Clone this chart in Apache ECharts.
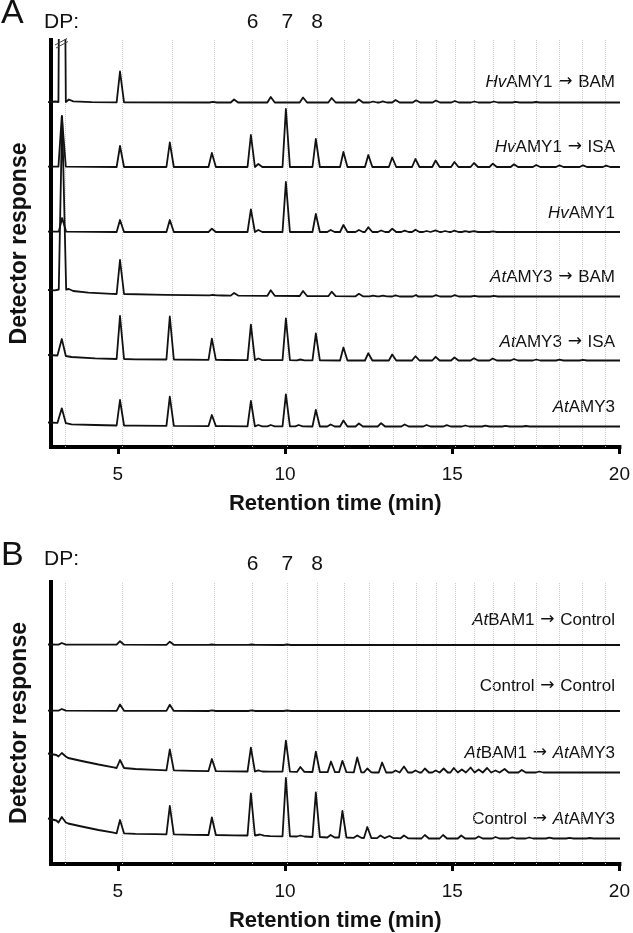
<!DOCTYPE html>
<html>
<head>
<meta charset="utf-8">
<script src="https://cdn.jsdelivr.net/npm/echarts@6/dist/echarts.min.js"></script>
<style>
html,body{margin:0;padding:0;background:#fff;}
#c{width:633px;height:933px;}
</style>
</head>
<body>
<div id="c"></div>
<script>
// ===================== DATA =====================
const xTicks = [5, 10, 15, 20];
const xTitle = 'Retention time (min)';
const yTitle = 'Detector response';
const dpGridTimes = [3.44, 5.14, 6.62, 7.87, 9.03, 10.07, 10.96, 11.78, 12.52, 13.23, 13.92, 14.52,
                     15.08, 15.66, 16.22, 16.85, 17.51, 18.2, 18.9, 19.59];
const dpLabelTimes = [9.03, 10.07, 10.96];
const dpLabels = ['6', '7', '8'];
const panelLetters = ['A', 'B'];
const dpPrefix = 'DP:';

const namesA = ['{i|Hv}AMY1 \u2192 BAM', '{i|Hv}AMY1 \u2192 ISA', '{i|Hv}AMY1',
                '{i|At}AMY3 \u2192 BAM', '{i|At}AMY3 \u2192 ISA', '{i|At}AMY3'];
const namesB = ['{i|At}BAM1 \u2192 Control', 'Control \u2192 Control',
                '{i|At}BAM1 \u2192 {i|At}AMY3', 'Control \u2192 {i|At}AMY3'];

// Each trace: baseline knots [time, level] and peaks [time, foot level, apex level]
// Panel A
const hvBamBase = [[3.0, 0.3], [3.22, 1], [3.62, 3], [3.75, 1.2], [4.3, 0.3], [20, 0]];
const hvBamPeaks = [[3.41, 0.5, 600], [5.14, 0.2, 31], [7.9, 0, 0.7], [8.53, 0, 3], [9.62, 0, 5.5],
  [10.58, 0, 5], [11.43, 0, 4.5], [12.24, 0, 3], [12.66, 0, 1], [12.95, 0, 1.2], [13.33, 0, 2.5],
  [13.94, 0, 2.2], [14.53, 0, 2], [15.09, 0, 1.5], [15.67, 0, 1], [16.25, 0, 1], [16.9, 0, 0.7], [17.5, 0, 0.5]];

const hvIsaBase = [[3.0, 0.3], [20, 0]];
const hvIsaPeaks = [[3.41, 0.3, 51], [5.14, 0, 21], [6.62, 0, 24.5], [7.87, 0, 14], [9.03, 0, 32], [9.25, 0, 3],
  [10.07, 0, 58], [10.96, 0, 28], [11.78, 0, 15], [12.52, 0, 12], [13.23, 0, 9.5], [13.92, 0, 8],
  [14.52, 0, 6.5], [15.08, 0, 5], [15.66, 0, 4], [16.22, 0, 3.3], [16.85, 0, 2.7], [17.51, 0, 2],
  [18.2, 0, 1.7], [18.9, 0, 1.7], [19.59, 0, 1.3]];

const hvAmyBase = [[3.0, 0.3], [20, 0]];
const hvAmyPeaks = [[3.42, 0.3, 14], [5.14, 0, 12], [6.62, 0, 12], [7.87, 0, 3.3], [9.03, 0, 22.7], [9.25, 0, 2],
  [10.07, 0, 50], [10.96, 0, 18], [11.4, 0, 2], [11.78, 0, 7], [12.24, 0, 2], [12.52, 0, 4.7], [12.9, 0, 1.5],
  [13.23, 0, 3.3], [13.6, 0, 1.3], [13.92, 0, 2.3], [14.25, 0, 1], [14.52, 0, 1.7], [14.8, 0, 1],
  [15.08, 0, 1.3], [15.4, 0, 0.8], [15.66, 0, 0.8], [16.22, 0, 0.6]];

const atBamBase = [[3.0, 6.5], [3.2, 6.2], [3.62, 7.5], [3.75, 5.5], [4.2, 3.8], [4.9, 2.6], [6.5, 1.6],
  [8.2, 1], [11, 0.4], [14, 0], [20, 0]];
const atBamPeaks = [[3.42, 7, 180], [5.14, 2.5, 36.5], [7.9, 1.2, 1.7], [8.53, 0.9, 3.5], [9.62, 0.7, 6.2],
  [10.58, 0.5, 5.5], [11.43, 0.3, 4.8], [12.24, 0.2, 2.7], [12.66, 0.1, 0.9], [12.95, 0.1, 0.9],
  [13.33, 0, 1.2], [13.94, 0, 1.5], [14.53, 0, 1.3], [15.09, 0, 1.3], [15.67, 0, 0.7], [16.25, 0, 0.6]];

const atIsaBase = [[3.0, 5.5], [3.28, 5], [3.7, 3.5], [4.4, 2.2], [5.6, 1.2], [8.3, 0.5], [12, 0], [20, 0]];
const atIsaPeaks = [[3.41, 4.5, 21.5], [5.14, 1.5, 44.5], [6.62, 1, 44], [7.87, 0.6, 21.8], [9.03, 0.4, 35.8],
  [9.25, 0.4, 2], [10.07, 0.3, 42], [10.5, 0.2, 1], [10.96, 0.1, 27], [11.78, 0, 13], [12.52, 0, 7.3],
  [13.23, 0, 6], [13.92, 0, 4.3], [14.52, 0, 3.7], [15.08, 0, 3], [15.66, 0, 2.3], [16.22, 0, 2],
  [16.85, 0, 1.5], [17.51, 0, 1], [18.2, 0, 0.8], [18.9, 0, 0.6]];

const atAmyBase = [[3.0, 4], [3.28, 3.6], [3.7, 2.2], [4.4, 1.5], [5.6, 0.8], [8.3, 0.3], [12, 0], [20, 0]];
const atAmyPeaks = [[3.41, 3.3, 18.2], [5.14, 1, 26.5], [6.62, 0.6, 29.8], [7.87, 0.4, 11.5], [9.03, 0.2, 25.5],
  [9.25, 0.2, 1.5], [9.62, 0.2, 1.5], [10.07, 0.1, 32.2], [10.45, 0.1, 1.5], [10.96, 0, 16.5], [11.4, 0, 2],
  [11.78, 0, 6], [12.24, 0, 3], [12.9, 0, 3.3], [13.6, 0, 2], [14.25, 0, 1.5], [14.85, 0, 1.3],
  [15.4, 0, 1], [16.0, 0, 0.8], [16.6, 0, 0.6], [17.2, 0, 0.5]];

// Panel B
const bamCtlBase = [[3.0, 0.5], [20, 0]];
const bamCtlPeaks = [[3.41, 0.4, 2], [5.14, 0.3, 3.8], [6.62, 0.2, 3.3], [7.87, 0.1, 0.5], [9.05, 0.1, 0.5], [10.1, 0, 0.5]];

const ctlCtlBase = [[3.0, 0.3], [20, 0]];
const ctlCtlPeaks = [[3.41, 0.3, 2], [5.14, 0.2, 6.5], [6.62, 0.1, 6.3], [7.87, 0, 0.6], [9.05, 0, 0.6], [10.1, 0, 0.5]];

const bamAmyBase = [[3.0, 19], [3.25, 17.5], [3.6, 14.5], [4.0, 11.5], [4.5, 8], [4.95, 5.2], [5.6, 3.5],
  [6.2, 2.6], [7.3, 1.7], [8.5, 1.2], [9.6, 0.9], [12.7, 0], [20, 0]];
const bamAmyPeaks = [[3.41, 16, 19.5], [5.14, 4.5, 12.5], [6.62, 2.2, 23.2], [7.87, 1.4, 13.5], [9.03, 1, 24.8],
  [9.25, 1, 2.2], [10.07, 0.8, 31.8], [10.5, 0.6, 5.5], [10.96, 0.5, 20.8], [11.41, 0.3, 11], [11.75, 0.3, 11.7],
  [12.19, 0.2, 15], [12.49, 0.1, 4], [12.93, 0, 10], [13.33, 0, 2], [13.58, 0, 6], [13.92, 0, 2], [14.2, 0, 4],
  [14.52, 0, 2], [14.76, 0, 4], [15.06, 0, 4.5], [15.3, 0, 3], [15.56, 0, 5], [15.8, 0, 3], [16.05, 0, 4.5],
  [16.3, 0, 2], [16.57, 0, 3.5], [17.08, 0, 2.5], [17.6, 0, 1]];

const ctlAmyBase = [[3.0, 20], [3.25, 18], [3.6, 15], [4.0, 12], [4.5, 8.5], [4.95, 5.8], [5.6, 4.6],
  [6.2, 4.3], [7.3, 3.7], [8.5, 3.2], [9.6, 2.4], [13.4, 0.3], [20, 0]];
const ctlAmyPeaks = [[3.41, 16, 21.5], [5.14, 5.2, 18.5], [6.62, 4.2, 32.5], [7.87, 3.5, 21], [9.03, 3, 45],
  [9.3, 2.8, 4], [10.07, 2.2, 60.5], [10.5, 2, 3], [10.96, 1.5, 46], [11.4, 1, 3.5], [11.75, 1, 27.5],
  [12.19, 0.7, 3], [12.49, 0.5, 11.5], [12.88, 0.4, 3], [13.15, 0.3, 2.5], [13.58, 0.2, 3], [14.2, 0, 3.5],
  [14.74, 0, 3.5], [15.28, 0, 3], [15.8, 0, 2], [16.3, 0, 1.5], [16.8, 0, 1.2], [17.3, 0, 1], [17.9, 0, 0.8],
  [18.5, 0, 0.6], [19.1, 0, 0.5]];

// ===================== LAYOUT / STYLE =====================
const FONT = "'Liberation Sans', Arial, Helvetica, sans-serif";
const ARROW_FONT = "'DejaVu Sans', 'Liberation Sans', sans-serif";
const INK = '#111';
const W = 633, LEFT = 48, RIGHT_X = 620;
const PEAK_L = 0.1, PEAK_R = 0.12;   // drawn half-widths of peaks (minutes)
const panels = [
  { top: 40, axisY: 447, baselines: [102.5, 167, 232, 296.5, 360.5, 426.5], labelY: [82, 147, 213, 277, 342, 407],
    names: namesA, traces: [[hvBamBase, hvBamPeaks], [hvIsaBase, hvIsaPeaks], [hvAmyBase, hvAmyPeaks],
                            [atBamBase, atBamPeaks], [atIsaBase, atIsaPeaks], [atAmyBase, atAmyPeaks]],
    letterY: 14, dpY: 22.5 },
  { top: 582, axisY: 866, baselines: [645, 711, 772.5, 838.5], labelY: [620, 686, 753, 819],
    names: namesB, traces: [[bamCtlBase, bamCtlPeaks], [ctlCtlBase, ctlCtlPeaks], [bamAmyBase, bamAmyPeaks],
                            [ctlAmyBase, ctlAmyPeaks]],
    letterY: 556, dpY: 559.5 }
];

function buildTrace(base, peaks) {
  const pts = base.map(p => [p[0], p[1]]);
  peaks.forEach(([t, foot, apex]) => {
    pts.push([t - PEAK_L, foot], [t, apex], [t + PEAK_R, foot]);
  });
  pts.sort((a, b) => a[0] - b[0]);
  return pts;
}
const withArrow = s => s.replace(/\u2192/g, '{a|\u2192}');

const grid = [], xAxis = [], yAxis = [], series = [], graphic = [];

panels.forEach((p, pi) => {
  // ----- frame grid with axes -----
  const gi = grid.length;
  grid.push({ left: LEFT, right: W - RIGHT_X, top: p.top, height: p.axisY - p.top });
  xAxis.push({
    gridIndex: gi, type: 'value', min: 3, max: 20, position: 'bottom',
    axisLine: { show: true, onZero: false, lineStyle: { color: '#000', width: 4, cap: 'square' } },
    axisTick: { show: true, customValues: xTicks, length: 7, lineStyle: { color: '#000', width: 3 } },
    axisLabel: { show: true, customValues: xTicks, fontFamily: FONT, fontSize: 19, color: INK,
                 margin: 28, verticalAlign: 'middle' },
    splitLine: { show: false },
    name: xTitle, nameLocation: 'middle', nameGap: 57,
    nameTextStyle: { fontFamily: FONT, fontSize: 22, fontWeight: 'bold', color: INK, verticalAlign: 'middle' }
  });
  const xi = xAxis.length - 1;
  xAxis.push({
    gridIndex: gi, type: 'value', min: 3, max: 20, position: 'top',
    axisLine: { show: false }, axisTick: { show: false }, splitLine: { show: false },
    axisLabel: { show: true, customValues: dpLabelTimes, fontFamily: FONT, fontSize: 21, color: INK,
                 margin: 17.5, verticalAlign: 'middle',
                 formatter: v => { const k = dpLabelTimes.findIndex(d => Math.abs(d - v) < 1e-6); return k >= 0 ? dpLabels[k] : ''; } }
  });
  yAxis.push({
    gridIndex: gi, type: 'value', min: 0, max: 1,
    axisLine: { show: true, onZero: false, lineStyle: { color: '#000', width: 4, cap: 'square' } },
    axisTick: { show: false }, axisLabel: { show: false }, splitLine: { show: false },
    name: yTitle, nameLocation: 'middle', nameRotate: 90, nameGap: 31.5,
    nameTextStyle: { fontFamily: FONT, fontSize: 23, fontWeight: 'bold', color: INK, verticalAlign: 'middle' }
  });
  const yi = yAxis.length - 1;
  series.push({
    type: 'line', xAxisIndex: xi, yAxisIndex: yi, data: [], silent: true, z: 1,
    markLine: {
      silent: true, symbol: 'none', animation: false, label: { show: false },
      lineStyle: { type: 'dotted', color: '#cdcdcd', width: 1 },
      data: dpGridTimes.map(t => ({ xAxis: t }))
    }
  });

  // ----- traces, each in its own stacked grid -----
  p.traces.forEach(([base, peaks], ti) => {
    const b = p.baselines[ti];
    const g = grid.length;
    grid.push({ left: LEFT, right: W - RIGHT_X, top: p.top, height: b + 10 - p.top });
    xAxis.push({ gridIndex: g, type: 'value', min: 3, max: 20, show: false });
    yAxis.push({ gridIndex: g, type: 'value', min: -10, max: b - p.top, show: false });
    series.push({
      type: 'line', name: p.names[ti], xAxisIndex: xAxis.length - 1, yAxisIndex: yAxis.length - 1,
      data: buildTrace(base, peaks), symbol: 'none', showSymbol: false, clip: true, silent: true, z: 5,
      lineStyle: { color: INK, width: 1.8, join: 'round' }
    });
    graphic.push({
      type: 'text', x: 615, y: p.labelY[ti], silent: true,
      style: { text: withArrow(p.names[ti]), textAlign: 'right', textVerticalAlign: 'middle',
               fontFamily: FONT, fontSize: 17, fill: INK,
               rich: { i: { fontStyle: 'italic', fontFamily: FONT, fontSize: 17, fill: INK },
                       a: { fontFamily: ARROW_FONT, fontSize: 17, fill: INK, padding: [0, 1, 0, 1] } } }
    });
  });

  // panel letter and DP prefix
  graphic.push({ type: 'text', x: 1, y: p.letterY, silent: true,
    style: { text: panelLetters[pi], textAlign: 'left', textVerticalAlign: 'middle', fontFamily: FONT, fontSize: 34, fill: INK } });
  graphic.push({ type: 'text', x: 44, y: p.dpY, silent: true,
    style: { text: dpPrefix, textAlign: 'left', textVerticalAlign: 'middle', fontFamily: FONT, fontSize: 21, fill: INK } });
});

// axis-break mark on the off-scale peak (panel A)
graphic.push({ type: 'line', silent: true, z: 20, shape: { x1: 55, y1: 45, x2: 67, y2: 38.5 }, style: { stroke: '#444', lineWidth: 1 } });
graphic.push({ type: 'line', silent: true, z: 20, shape: { x1: 56, y1: 48, x2: 68, y2: 41.5 }, style: { stroke: '#444', lineWidth: 1 } });

const chart = echarts.init(document.getElementById('c'), null, { renderer: 'canvas' });
chart.setOption({
  animation: false,
  backgroundColor: '#fff',
  grid, xAxis, yAxis, series, graphic
});
</script>
</body>
</html>
